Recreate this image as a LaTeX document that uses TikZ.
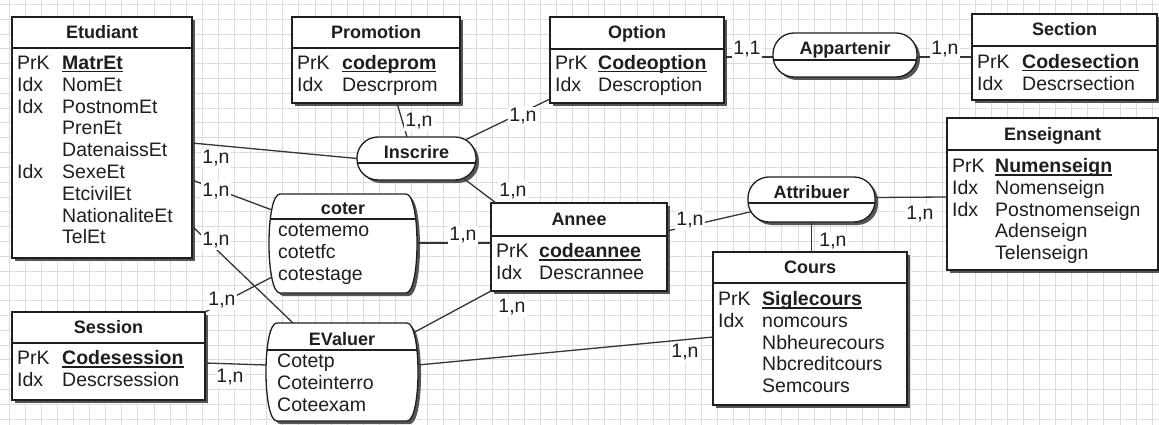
\documentclass[tikz,border=0pt]{standalone}
\usepackage{fontspec}
\setmainfont{Liberation Sans}
\usetikzlibrary{calc,shadows}
\definecolor{gridc}{HTML}{DCDCDC}
\definecolor{ink}{HTML}{1E1E1E}
\definecolor{shade}{HTML}{555555}
\newcommand\pk[1]{\setbox0\hbox{\textbf{#1}}\rlap{\rule[-3pt]{\wd0}{1.4pt}}\box0}
% entity: name, x1, y1, x2, y2, header bottom, title baseline, title
\newcommand\ent[8]{%
  \node[ent, minimum width={(#4-#2)*1pt}, minimum height={(#5-#3)*1pt}] (#1) at ({(#2+#4)/2},{(#3+#5)/2}) {};
  \draw[div] (#2,#6) -- (#4,#6);
  \node[ttl] (#1-t) at ({(#2+#4)/2},#7) {#8};
}
% association (stadium): name, x1, y1, x2, y2, divider, title baseline, title
\newcommand\asso[8]{%
  \node[rel, minimum width={(#4-#2)*1pt}, minimum height={(#5-#3)*1pt}] (#1) at ({(#2+#4)/2},{(#3+#5)/2}) {};
  \draw[div] ({#2+1},#6) -- ({#4-1},#6);
  \node[ttl] (#1-t) at ({(#2+#4)/2},#7) {#8};
}
% association (barrel): name, x1, y1, x2, y2, divider, title baseline, title
\newcommand\barrelpath[4]{({#1+11},#2) -- ({#3-11},#2) .. controls ({#3+3.7},#2) and ({#3+3.7},#4) .. ({#3-11},#4) -- ({#1+11},#4) .. controls ({#1-3.7},#4) and ({#1-3.7},#2) .. cycle}
\newcommand\barrel[8]{%
  \path[box] \barrelpath{#2}{#3}{#4}{#5};
  \node[anchorbox, minimum width={(#4-#2)*1pt}, minimum height={(#5-#3)*1pt}] (#1) at ({(#2+#4)/2},{(#3+#5)/2}) {};
  \begin{scope}
    \clip \barrelpath{#2}{#3}{#4}{#5};
    \draw[div] ({#2-5},#6) -- ({#4+5},#6);
  \end{scope}
  \node[ttl] (#1-t) at ({(#2+#4)/2},#7) {#8};
}
\begin{document}
\begin{tikzpicture}[x=1pt,y=-1pt,
  box/.style={draw=ink, line width=1.3pt, fill=white, inner sep=0pt, outer sep=0pt,
    drop shadow={shadow xshift=3pt, shadow yshift=-3pt, fill=shade, opacity=1}},
  ent/.style={box, rectangle},
  rel/.style={box, rectangle, rounded corners=21pt},
  anchorbox/.style={rectangle, draw=none, inner sep=0pt, outer sep=0pt},
  div/.style={draw=ink, line width=1.3pt},
  ttl/.style={font=\fontsize{18}{21.8}\selectfont\bfseries, text=ink, inner sep=0pt, anchor=base},
  col/.style={font=\fontsize{19.5}{21.8}\selectfont, text=ink, inner sep=0pt, anchor=base west},
  conn/.style={draw=ink!90, line width=1.3pt},
  card/.style={font=\fontsize{19.5}{21.8}\selectfont, text=ink, fill=white, inner sep=1.5pt, anchor=base},
]
\useasboundingbox (0,0) rectangle (1159,425);
\fill[white] (0,0) rectangle (1159,425);
\foreach \i in {0,...,72} \draw[gridc, line width=0.8pt] ({\i*16.1+9},0) -- ({\i*16.1+9},425);
\foreach \j in {0,...,28} \draw[gridc, line width=0.8pt] (0,{\j*14.8+4.5}) -- (1159,{\j*14.8+4.5});

% ---------- entities ----------
\ent{etu}{12}{17}{192}{258}{48}{38.5}{Etudiant}
\node[col] (etu-k) at (17,69.5) {\begin{tabular}[t]{@{}l@{}}PrK\\Idx\\Idx\\{}\\{}\\Idx\end{tabular}};
\node[col] (etu-a) at (62,69.5) {\begin{tabular}[t]{@{}l@{}}\pk{MatrEt}\\NomEt\\PostnomEt\\PrenEt\\DatenaissEt\\SexeEt\\EtcivilEt\\NationaliteEt\\TelEt\end{tabular}};

\ent{pro}{292}{17}{460}{103}{48}{38.5}{Promotion}
\node[col] (pro-k) at (297,69.5) {\begin{tabular}[t]{@{}l@{}}PrK\\Idx\end{tabular}};
\node[col] (pro-a) at (342,69.5) {\begin{tabular}[t]{@{}l@{}}\pk{codeprom}\\Descrprom\end{tabular}};

\ent{opt}{550}{17}{724}{103}{49}{38.5}{Option}
\node[col] (opt-k) at (555,69.5) {\begin{tabular}[t]{@{}l@{}}PrK\\Idx\end{tabular}};
\node[col] (opt-a) at (598,69.5) {\begin{tabular}[t]{@{}l@{}}\pk{Codeoption}\\Descroption\end{tabular}};

\ent{sec}{972}{14}{1157}{100}{46}{35.5}{Section}
\node[col] (sec-k) at (977,68.5) {\begin{tabular}[t]{@{}l@{}}PrK\\Idx\end{tabular}};
\node[col] (sec-a) at (1022,68.5) {\begin{tabular}[t]{@{}l@{}}\pk{Codesection}\\Descrsection\end{tabular}};

\ent{ens}{947}{118}{1158}{270}{150}{140.5}{Enseignant}
\node[col] (ens-k) at (952,172.5) {\begin{tabular}[t]{@{}l@{}}PrK\\Idx\\Idx\end{tabular}};
\node[col] (ens-a) at (995,172.5) {\begin{tabular}[t]{@{}l@{}}\pk{Numenseign}\\Nomenseign\\Postnomenseign\\Adenseign\\Telenseign\end{tabular}};

\ent{ann}{491}{203}{667}{291}{236}{225.5}{Annee}
\node[col] (ann-k) at (496,257.5) {\begin{tabular}[t]{@{}l@{}}PrK\\Idx\end{tabular}};
\node[col] (ann-a) at (539,257.5) {\begin{tabular}[t]{@{}l@{}}\pk{codeannee}\\Descrannee\end{tabular}};

\ent{cou}{713}{252}{907}{405}{283}{273.5}{Cours}
\node[col] (cou-k) at (718,305.5) {\begin{tabular}[t]{@{}l@{}}PrK\\Idx\end{tabular}};
\node[col] (cou-a) at (762,305.5) {\begin{tabular}[t]{@{}l@{}}\pk{Siglecours}\\nomcours\\Nbheurecours\\Nbcreditcours\\Semcours\end{tabular}};

\ent{ses}{12}{312}{205}{400}{343}{333.5}{Session}
\node[col] (ses-k) at (17,364.5) {\begin{tabular}[t]{@{}l@{}}PrK\\Idx\end{tabular}};
\node[col] (ses-a) at (62,364.5) {\begin{tabular}[t]{@{}l@{}}\pk{Codesession}\\Descrsession\end{tabular}};

% ---------- associations ----------
\asso{ins}{357}{137}{476}{180}{163}{158.5}{Inscrire}
\asso{app}{773}{33}{917}{77}{60}{54.5}{Appartenir}
\asso{att}{748}{177}{875}{222}{203}{198.5}{Attribuer}
\barrel{cot}{269}{194}{417}{293}{219}{214.5}{coter}
\node[col] (cot-a) at (278,236.5) {\begin{tabular}[t]{@{}l@{}}cotememo\\cotetfc\\cotestage\end{tabular}};
\barrel{eva}{266}{323}{418}{421}{350}{345.5}{EValuer}
\node[col] (eva-a) at (277,367.5) {\begin{tabular}[t]{@{}l@{}}Cotetp\\Coteinterro\\Coteexam\end{tabular}};

% ---------- connectors ----------
\draw[conn] ($(etu.north east)+(0,126)$) -- (ins.west);
\draw[conn] ($(etu.north east)+(0,163)$) -- ($(cot.north west)+(3,16)$);
\draw[conn] ($(etu.north east)+(0,209)$) -- ($(eva.north west)+(27,0)$);
\draw[conn] ($(cot.north west)+(3,83)$) -- (ses.north east);
\draw[conn] ($(ses.north east)+(0,51)$) -- ($(eva.north west)+(0,42)$);
\draw[conn] ($(cot.north east)+(0,49)$) -- ($(ann.north west)+(0,40)$);
\draw[conn] ($(pro.south west)+(105,0)$) -- ($(ins.north west)+(50,0)$);
\draw[conn] ($(ins.north east)+(-11,3)$) -- ($(opt.south west)+(0,-4)$);
\draw[conn] ($(ins.south east)+(-13,-2)$) -- ($(ann.north west)+(5,0)$);
\draw[conn] ($(eva.north east)+(-5,10)$) -- (ann.south west);
\draw[conn] ($(eva.north east)+(0,42)$) -- ($(cou.north west)+(0,85)$);
\draw[conn] ($(ann.north east)+(0,28)$) -- ($(att.west)+(4,12)$);
\draw[conn] ($(att.east)+(0,-2)$) -- ($(ens.north west)+(0,79)$);
\draw[conn] (att.south) -- (att.south |- cou.north);
\draw[conn] ($(opt.north east)+(0,40)$) -- ($(app.west)+(0,2)$);
\draw[conn] ($(app.east)+(0,2)$) -- ($(sec.north west)+(0,43)$);

% ---------- cardinalities ----------
\node[card] (l1) at (216,163.8) {1,n};
\node[card] (l2) at (216,196.8) {1,n};
\node[card] (l3) at (216,245.8) {1,n};
\node[card] (l4) at (222,305.8) {1,n};
\node[card] (l5) at (230,382.8) {1,n};
\node[card] (l6) at (463,240.8) {1,n};
\node[card] (l7) at (419,126.8) {1,n};
\node[card] (l8) at (523,121.8) {1,n};
\node[card] (l9) at (513,196.8) {1,n};
\node[card] (l10) at (512,312.8) {1,n};
\node[card] (l11) at (685,357.8) {1,n};
\node[card] (l12) at (690,225.8) {1,n};
\node[card] (l13) at (920,219.8) {1,n};
\node[card] (l14) at (833,246.8) {1,n};
\node[card] (l15) at (747,54.8) {1,1};
\node[card] (l16) at (945,54.8) {1,n};
\end{tikzpicture}
\end{document}
